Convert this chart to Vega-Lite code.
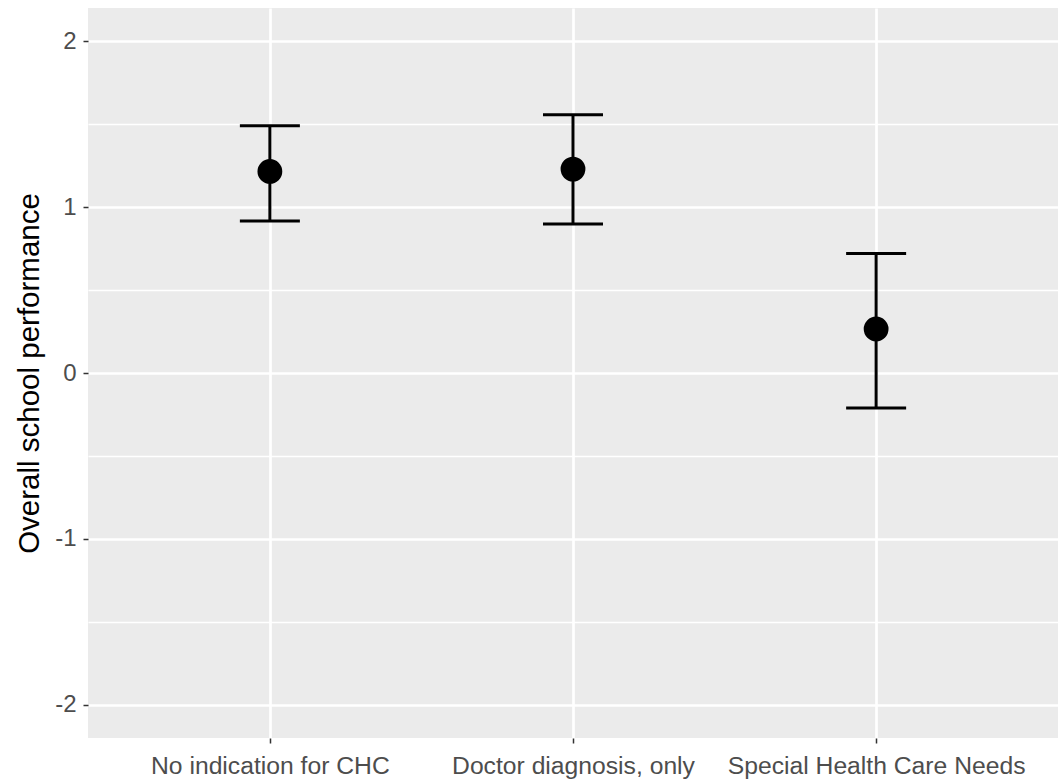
{
  "$schema": "https://vega.github.io/schema/vega-lite/v6.json",
  "width": 970,
  "height": 730,
  "autosize": {"type": "none"},
  "padding": {"left": 88, "top": 8, "right": 0, "bottom": 42},
  "background": "white",
  "config": {
    "view": {"fill": "#EBEBEB", "stroke": null},
    "font": "Liberation Sans",
    "axis": {"domain": false}
  },
  "data": {
    "values": [
      {"group": "No indication for CHC", "mean": 1.215, "lower": 0.916, "upper": 1.49},
      {"group": "Doctor diagnosis, only", "mean": 1.229, "lower": 0.898, "upper": 1.556},
      {"group": "Special Health Care Needs", "mean": 0.265, "lower": -0.211, "upper": 0.721}
    ]
  },
  "encoding": {
    "x": {
      "field": "group",
      "type": "nominal",
      "sort": null,
      "scale": {"type": "point", "padding": 0.6},
      "axis": {
        "title": null,
        "labelAngle": 0,
        "labelFontSize": 24.7,
        "labelColor": "#4D4D4D",
        "labelPadding": 10,
        "labelLimit": 0,
        "labelOverlap": false,
        "tickSize": 5,
        "tickWidth": 1.5,
        "tickColor": "#333333",
        "grid": true,
        "gridColor": "white",
        "gridWidth": 2.7
      }
    }
  },
  "layer": [
    {
      "mark": {"type": "rule", "color": "black", "strokeWidth": 3},
      "encoding": {
        "y": {
          "field": "lower",
          "type": "quantitative",
          "scale": {"domain": [-2.2, 2.2], "nice": false, "zero": false},
          "axis": {
            "orient": "left",
            "values": [-1.5, -0.5, 0.5, 1.5],
            "labels": false,
            "ticks": false,
            "title": null,
            "grid": true,
            "gridColor": "white",
            "gridWidth": 1.3
          }
        },
        "y2": {"field": "upper"}
      }
    },
    {
      "mark": {"type": "tick", "color": "black", "size": 60, "thickness": 3, "opacity": 1},
      "encoding": {
        "y": {"field": "lower", "type": "quantitative", "axis": null}
      }
    },
    {
      "mark": {"type": "tick", "color": "black", "size": 60, "thickness": 3, "opacity": 1},
      "encoding": {
        "y": {"field": "upper", "type": "quantitative", "axis": null}
      }
    },
    {
      "mark": {"type": "point", "filled": true, "shape": "circle", "size": 616, "color": "black", "opacity": 1},
      "encoding": {
        "y": {
          "field": "mean",
          "type": "quantitative",
          "axis": {
            "orient": "left",
            "values": [-2, -1, 0, 1, 2],
            "labelExpr": "datum.value < 0 ? '-' + abs(datum.value) : '' + datum.value",
            "title": "Overall school performance",
            "titleFontSize": 29.5,
            "titleFontWeight": "normal",
            "titleColor": "black",
            "titlePadding": 10,
            "labelFontSize": 24,
            "labelColor": "#4D4D4D",
            "labelPadding": 7,
            "tickSize": 5,
            "tickWidth": 1.5,
            "tickColor": "#333333",
            "grid": true,
            "gridColor": "white",
            "gridWidth": 2.7
          }
        }
      }
    }
  ],
  "resolve": {"axis": {"y": "independent"}}
}
